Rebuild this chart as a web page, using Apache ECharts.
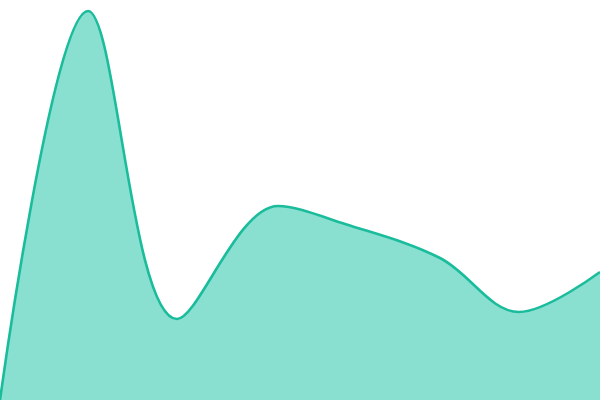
<!DOCTYPE html>
<html><head><meta charset="utf-8">
<script src="https://cdn.jsdelivr.net/npm/echarts@6/dist/echarts.min.js"></script>
<style>html,body{margin:0;padding:0;background:#fff}#c{width:600px;height:400px}</style>
</head><body><div id="c"></div>
<script>
const xs = [0, 88, 177, 278, 345, 440, 519, 600];
const values = [0, 97.25, 20.25, 48.5, 44, 35.5, 22, 32];
const points = xs.map((x, i) => [x, values[i]]);
const chart = echarts.init(document.getElementById('c'));
chart.setOption({
  animation:false,
  grid:{left:0,right:0,top:0,bottom:0},
  xAxis:{type:'value',min:0,max:600,show:false},
  yAxis:{type:'value',min:0,max:100,show:false},
  series:[{type:'line',data:points,smooth:0.35,symbol:'none',
    lineStyle:{color:'#1abc9c',width:2.6},
    areaStyle:{color:'#89e0d0',opacity:1}}]
});
</script></body></html>
